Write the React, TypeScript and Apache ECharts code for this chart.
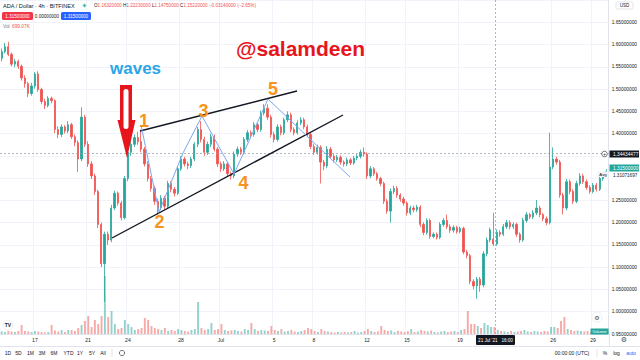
import React, { useEffect, useRef } from "react";
import * as echarts from "echarts";

// 6-hour buckets starting 14 Jun 2021 12:00 UTC
const START_UTC = Date.UTC(2021, 5, 14, 12);
const STEP_HOURS = 6;

const opens = [
  1.569, 1.584, 1.595, 1.578, 1.556, 1.562, 1.551, 1.525, 1.512, 1.490,
  1.507, 1.534, 1.499, 1.472, 1.463, 1.479, 1.474, 1.409, 1.398, 1.415,
  1.406, 1.420, 1.393, 1.380, 1.343, 1.437, 1.376, 1.332, 1.305, 1.270,
  1.196, 1.108, 1.174, 1.161, 1.233, 1.266, 1.244, 1.211, 1.299, 1.358,
  1.376, 1.391, 1.382, 1.365, 1.332, 1.299, 1.277, 1.248, 1.233, 1.255,
  1.237, 1.288, 1.275, 1.266, 1.321, 1.343, 1.332, 1.328, 1.343, 1.376,
  1.409, 1.387, 1.358, 1.376, 1.393, 1.365, 1.332, 1.321, 1.332, 1.310,
  1.305, 1.354, 1.365, 1.358, 1.387, 1.402, 1.398, 1.420, 1.409, 1.446,
  1.457, 1.437, 1.398, 1.387, 1.415, 1.402, 1.431, 1.442, 1.409, 1.402,
  1.424, 1.431, 1.415, 1.398, 1.371, 1.358, 1.369, 1.336, 1.327, 1.365,
  1.349, 1.341, 1.347, 1.336, 1.332, 1.341, 1.334, 1.345, 1.349, 1.358,
  1.354, 1.305, 1.321, 1.310, 1.299, 1.288, 1.248, 1.226, 1.270, 1.277,
  1.262, 1.253, 1.244, 1.222, 1.233, 1.229, 1.235, 1.196, 1.178, 1.205,
  1.169, 1.174, 1.167, 1.196, 1.205, 1.191, 1.183, 1.189, 1.180, 1.187,
  1.134, 1.126, 1.068, 1.058, 1.073, 1.060, 1.130, 1.161, 1.163, 1.152,
  1.178, 1.174, 1.191, 1.200, 1.191, 1.196, 1.174, 1.161, 1.205, 1.218,
  1.213, 1.222, 1.233, 1.218, 1.209, 1.200, 1.325, 1.343, 1.336, 1.262,
  1.233, 1.292, 1.270, 1.248, 1.288, 1.305, 1.292, 1.279, 1.270, 1.284,
  1.275, 1.299, 1.309,
];

const closes = [
  1.584, 1.595, 1.578, 1.556, 1.562, 1.551, 1.525, 1.512, 1.490, 1.507,
  1.534, 1.499, 1.472, 1.463, 1.479, 1.474, 1.409, 1.398, 1.415, 1.406,
  1.420, 1.393, 1.380, 1.343, 1.437, 1.376, 1.332, 1.305, 1.270, 1.196,
  1.108, 1.174, 1.161, 1.233, 1.266, 1.244, 1.211, 1.299, 1.358, 1.376,
  1.391, 1.382, 1.365, 1.332, 1.299, 1.277, 1.248, 1.233, 1.255, 1.237,
  1.288, 1.275, 1.266, 1.321, 1.343, 1.332, 1.328, 1.343, 1.376, 1.409,
  1.387, 1.358, 1.376, 1.393, 1.365, 1.332, 1.321, 1.332, 1.310, 1.305,
  1.354, 1.365, 1.358, 1.387, 1.402, 1.398, 1.420, 1.409, 1.446, 1.457,
  1.437, 1.398, 1.387, 1.415, 1.402, 1.431, 1.442, 1.409, 1.402, 1.424,
  1.431, 1.415, 1.398, 1.371, 1.358, 1.369, 1.336, 1.327, 1.365, 1.349,
  1.341, 1.347, 1.336, 1.332, 1.341, 1.334, 1.345, 1.349, 1.358, 1.354,
  1.305, 1.321, 1.310, 1.299, 1.288, 1.248, 1.226, 1.270, 1.277, 1.262,
  1.253, 1.244, 1.222, 1.233, 1.229, 1.235, 1.196, 1.178, 1.205, 1.169,
  1.174, 1.167, 1.196, 1.205, 1.191, 1.183, 1.189, 1.180, 1.187, 1.134,
  1.126, 1.068, 1.058, 1.073, 1.060, 1.130, 1.161, 1.184, 1.152, 1.178,
  1.174, 1.191, 1.200, 1.191, 1.196, 1.174, 1.161, 1.205, 1.218, 1.213,
  1.222, 1.233, 1.218, 1.209, 1.200, 1.325, 1.343, 1.336, 1.262, 1.233,
  1.292, 1.270, 1.248, 1.288, 1.305, 1.292, 1.279, 1.270, 1.284, 1.275,
  1.299, 1.309, 1.315,
];

const lows = [
  1.562, 1.580, 1.574, 1.551, 1.549, 1.545, 1.519, 1.503, 1.482, 1.485,
  1.501, 1.494, 1.466, 1.455, 1.459, 1.468, 1.401, 1.390, 1.392, 1.400,
  1.401, 1.388, 1.372, 1.314, 1.338, 1.370, 1.325, 1.298, 1.262, 1.188,
  1.100, 1.022, 1.150, 1.156, 1.228, 1.238, 1.205, 1.207, 1.293, 1.350,
  1.370, 1.375, 1.358, 1.326, 1.292, 1.270, 1.240, 1.218, 1.228, 1.230,
  1.232, 1.268, 1.259, 1.262, 1.316, 1.326, 1.320, 1.323, 1.338, 1.370,
  1.380, 1.350, 1.352, 1.370, 1.360, 1.325, 1.314, 1.316, 1.304, 1.297,
  1.300, 1.348, 1.352, 1.353, 1.381, 1.391, 1.393, 1.403, 1.404, 1.441,
  1.431, 1.391, 1.380, 1.382, 1.396, 1.397, 1.426, 1.403, 1.396, 1.398,
  1.419, 1.410, 1.392, 1.365, 1.352, 1.353, 1.288, 1.318, 1.322, 1.343,
  1.335, 1.336, 1.330, 1.326, 1.327, 1.329, 1.330, 1.340, 1.344, 1.348,
  1.298, 1.300, 1.305, 1.294, 1.282, 1.242, 1.220, 1.200, 1.264, 1.256,
  1.247, 1.238, 1.216, 1.217, 1.223, 1.224, 1.190, 1.172, 1.173, 1.164,
  1.165, 1.162, 1.163, 1.191, 1.186, 1.177, 1.178, 1.175, 1.176, 1.129,
  1.120, 1.062, 1.050, 1.029, 1.045, 1.055, 1.124, 1.156, 1.1475, 1.148,
  1.168, 1.170, 1.186, 1.185, 1.186, 1.168, 1.155, 1.157, 1.200, 1.208,
  1.208, 1.217, 1.212, 1.203, 1.194, 1.196, 1.320, 1.330, 1.256, 1.218,
  1.228, 1.264, 1.242, 1.244, 1.283, 1.287, 1.274, 1.265, 1.266, 1.270,
  1.271, 1.294, 1.305,
];

const highs = [
  1.591, 1.604, 1.606, 1.582, 1.568, 1.566, 1.555, 1.531, 1.516, 1.514,
  1.538, 1.540, 1.503, 1.478, 1.484, 1.483, 1.477, 1.416, 1.421, 1.419,
  1.428, 1.424, 1.398, 1.385, 1.459, 1.442, 1.383, 1.338, 1.310, 1.274,
  1.200, 1.180, 1.180, 1.240, 1.272, 1.270, 1.249, 1.305, 1.364, 1.382,
  1.398, 1.404, 1.409, 1.370, 1.338, 1.305, 1.283, 1.254, 1.262, 1.260,
  1.294, 1.293, 1.280, 1.327, 1.349, 1.348, 1.337, 1.348, 1.381, 1.415,
  1.428, 1.393, 1.382, 1.400, 1.398, 1.370, 1.337, 1.338, 1.336, 1.315,
  1.360, 1.371, 1.370, 1.392, 1.408, 1.407, 1.426, 1.424, 1.452, 1.466,
  1.466, 1.442, 1.404, 1.421, 1.420, 1.436, 1.450, 1.447, 1.414, 1.430,
  1.437, 1.436, 1.420, 1.403, 1.377, 1.375, 1.374, 1.341, 1.372, 1.370,
  1.354, 1.352, 1.351, 1.340, 1.346, 1.345, 1.350, 1.354, 1.364, 1.369,
  1.358, 1.327, 1.325, 1.314, 1.303, 1.292, 1.253, 1.277, 1.283, 1.282,
  1.266, 1.258, 1.248, 1.238, 1.238, 1.240, 1.239, 1.201, 1.210, 1.209,
  1.178, 1.178, 1.201, 1.210, 1.218, 1.196, 1.194, 1.193, 1.191, 1.191,
  1.139, 1.130, 1.073, 1.078, 1.078, 1.136, 1.167, 1.189, 1.2223, 1.185,
  1.183, 1.197, 1.206, 1.205, 1.201, 1.200, 1.178, 1.211, 1.224, 1.222,
  1.228, 1.251, 1.238, 1.222, 1.214, 1.402, 1.369, 1.348, 1.341, 1.267,
  1.298, 1.297, 1.275, 1.294, 1.311, 1.310, 1.297, 1.284, 1.289, 1.289,
  1.305, 1.314, 1.320,
];

// volume in thousands
const volumes = [
  250, 200, 300, 250, 200, 300, 900, 300, 250, 200,
  300, 250, 200, 150, 200, 900, 350, 250, 400, 200,
  400, 400, 300, 600, 900, 1300, 1800, 700, 1400, 1000,
  1800, 5800, 1700, 2300, 1000, 500, 600, 1400, 1000, 700,
  400, 500, 600, 1600, 1400, 800, 600, 500, 400, 600,
  300, 400, 300, 500, 400, 300, 250, 400, 500, 3200,
  600, 400, 500, 1100, 400, 500, 1000, 400, 300, 350,
  400, 300, 250, 500, 400, 1100, 500, 300, 400, 350,
  300, 800, 400, 300, 500, 250, 300, 400, 250, 200,
  300, 400, 600, 500, 300, 200, 500, 300, 250, 200,
  150, 200, 150, 200, 150, 200, 300, 150, 200, 300,
  500, 300, 200, 250, 800, 400, 300, 350, 200, 300,
  250, 200, 300, 500, 200, 250, 400, 300, 250, 350,
  200, 150, 250, 300, 200, 250, 300, 200, 400, 500,
  2300, 1000, 1000, 800, 600, 1100, 900, 700, 699.07, 400,
  300, 250, 200, 300, 200, 250, 300, 400, 250, 200,
  300, 250, 200, 300, 250, 700, 700, 600, 1300, 1700,
  500, 400, 300, 350, 300, 250, 300, 200, 250, 300,
  250, 400, 300,
];

const tickDates = [
  "2021-06-17", "2021-06-21", "2021-06-24", "2021-06-28", "2021-07-01", "2021-07-05",
  "2021-07-08", "2021-07-12", "2021-07-15", "2021-07-19", "2021-07-26", "2021-07-29",
];
const tickLabels = ["17", "21", "24", "28", "Jul", "5", "8", "12", "15", "19", "26", "29"];

// price ticks hidden behind the crosshair / last-price labels
const hiddenPriceTicks = ["1.35000000", "1.30000000"];

const rangeButtons = ["1D", "5D", "1M", "3M", "6M", "YTD", "1Y", "5Y", "All"];

const FONT = "'Liberation Sans', Arial, sans-serif";
const UP = "#26a69a";
const DOWN = "#ef5350";
const TEXT = "#131722";

const pad = (n: number) => (n < 10 ? "0" + n : "" + n);
const categories = opens.map((_, i) => {
  const d = new Date(START_UTC + i * STEP_HOURS * 3600 * 1000);
  return `${d.getUTCFullYear()}-${pad(d.getUTCMonth() + 1)}-${pad(d.getUTCDate())} ${pad(d.getUTCHours())}:00`;
});

function isTick(value: string) {
  return value.endsWith("00:00") && tickDates.indexOf(value.slice(0, 10)) >= 0;
}

function txt(x: number, y: number, text: string, o: any = {}) {
  return {
    type: "text",
    x,
    y,
    z: 100,
    silent: true,
    style: {
      text,
      fill: o.fill || TEXT,
      fontSize: o.size || 5,
      fontFamily: o.family || FONT,
      fontWeight: o.weight || "normal",
      align: o.align || "left",
      verticalAlign: "middle",
      rich: o.rich,
    },
  };
}

function rect(x: number, y: number, w: number, h: number, fill: string, o: any = {}) {
  return {
    type: "rect",
    z: 99,
    silent: true,
    shape: { x, y, width: w, height: h, r: o.r || 0 },
    style: { fill, stroke: o.stroke || null, lineWidth: o.lw || 0 },
  };
}

function line(x1: number, y1: number, x2: number, y2: number, stroke: string, lw = 1, dash?: number[]) {
  return {
    type: "line",
    z: 98,
    silent: true,
    shape: { x1, y1, x2, y2 },
    style: { stroke, lineWidth: lw, lineDash: dash || null },
  };
}

export default function App() {
  const ref = useRef<HTMLDivElement>(null);

  useEffect(() => {
    const chart = echarts.init(ref.current!, null, { renderer: "svg" });
    const candles = opens.map((o, i) => [o, closes[i], lows[i], highs[i]]);
    const vol = volumes.map((v, i) => ({
      value: v,
      itemStyle: { color: closes[i] >= opens[i] ? "rgba(38,166,154,0.5)" : "rgba(239,83,80,0.5)" },
    }));

    const orange = "#f7941d";
    const graphic: any[] = [
      // crosshair
      line(0, 153.5, 609, 153.5, "#9598a1", 0.7, [2, 2]),
      line(495.5, 0, 495.5, 334, "#9598a1", 0.7, [2, 2]),
      // separators
      line(609.3, 334, 609.3, 346, "#e0e3eb", 1),
      line(0, 346.5, 640, 346.5, "#e0e3eb", 1),
      // trend lines
      line(140, 131, 297, 91, "#131722", 1.4),
      line(112, 238, 343, 115, "#131722", 1.4),
      {
        type: "polyline",
        z: 98,
        silent: true,
        shape: { points: [[141, 125], [159, 212], [183, 153], [202, 116], [234, 174], [268, 99], [350, 177]] },
        style: { stroke: "#7ea6f2", lineWidth: 1, fill: null },
      },
      // red arrow
      {
        type: "polygon",
        z: 100,
        silent: true,
        shape: { points: [[120, 85], [132, 85], [132, 120], [135.5, 120], [127, 158], [117.5, 120], [120, 120]] },
        style: { fill: "#e8141c" },
      },
      {
        type: "rect",
        z: 101,
        silent: true,
        shape: { x: 123.5, y: 89, width: 5, height: 40, r: 2.5 },
        style: { fill: "#ffffff" },
      },
      // annotations
      txt(110, 68, "waves", { size: 17, weight: "bold", fill: "#2ba5e6" }),
      txt(236, 48.5, "@salamdeen", { size: 21, weight: "bold", fill: "#e8141c" }),
      txt(144, 121, "1", { size: 18, weight: "bold", fill: orange, align: "center" }),
      txt(159.5, 222, "2", { size: 18, weight: "bold", fill: orange, align: "center" }),
      txt(203.5, 111, "3", { size: 18, weight: "bold", fill: orange, align: "center" }),
      txt(243.5, 183, "4", { size: 18, weight: "bold", fill: orange, align: "center" }),
      txt(273, 88.5, "5", { size: 18, weight: "bold", fill: orange, align: "center" }),
      // header
      txt(3, 5.5, "ADA / Dollar · 4h · BITFINEX", { size: 5.6 }),
      { type: "circle", z: 100, silent: true, shape: { cx: 84.5, cy: 5.5, r: 2.4 }, style: { fill: "#d7f0ec" } },
      { type: "circle", z: 101, silent: true, shape: { cx: 84.5, cy: 5.5, r: 1.2 }, style: { fill: UP } },
      txt(94, 5.5, "{a|O}{b|1.16320000} {a|H}{b|1.22230000} {a|L}{b|1.14750000} {a|C}{b|1.15220000} {b|−0.03140000 (−2.65%)}", {
        size: 4.6,
        rich: {
          a: { fill: TEXT, fontSize: 4.6, fontFamily: FONT },
          b: { fill: DOWN, fontSize: 4.6, fontFamily: FONT },
        },
      }),
      rect(2, 12, 31, 8, "#f23645", { r: 1.5 }),
      txt(17.5, 16, "1.31500000", { size: 4.6, fill: "#ffffff", align: "center" }),
      txt(47, 16, "0.00000000", { size: 4.6, align: "center" }),
      rect(61, 12, 30, 8, "#2962ff", { r: 1.5 }),
      txt(76, 16, "1.31500000", { size: 4.6, fill: "#ffffff", align: "center" }),
      txt(3, 26, "Vol", { size: 4.8, fill: "#787b86" }),
      txt(12, 26, "699.07K", { size: 4.8, fill: DOWN }),
      // right scale items
      rect(616, 2, 17, 7, "#ffffff", { r: 1.5, stroke: "#d1d4dc", lw: 0.6 }),
      txt(624.5, 5.5, "USD", { size: 4.5, align: "center" }),
      rect(609.5, 150.5, 29.5, 7, TEXT),
      txt(613, 154, "1.34434477", { size: 4.8, fill: "#ffffff" }),
      { type: "circle", z: 100, silent: true, shape: { cx: 604.5, cy: 154, r: 2.8 }, style: { fill: "#ffffff", stroke: TEXT, lineWidth: 0.6 } },
      txt(604.5, 154, "+", { size: 4.5, align: "center" }),
      rect(609.5, 164.5, 29.5, 7, UP),
      txt(613, 168, "1.31500000", { size: 4.8, fill: "#ffffff" }),
      rect(597.5, 171.5, 11, 5.5, "#f0f3fa", { r: 1 }),
      txt(603, 174.3, "Avg", { size: 4.3, align: "center" }),
      rect(609.5, 172, 29.5, 6, "#ffffff"),
      txt(613, 175, "1.31071697", { size: 4.6 }),
      // bottom of pane
      { type: "circle", z: 100, silent: true, shape: { cx: 8, cy: 325, r: 5 }, style: { fill: "#ffffff", stroke: "#e0e3eb", lineWidth: 0.6 } },
      txt(8, 325.3, "TV", { size: 5, weight: "bold", align: "center" }),
      { type: "circle", z: 100, silent: true, shape: { cx: 597, cy: 317, r: 5 }, style: { fill: "#ffffff", stroke: "#e0e3eb", lineWidth: 0.6 } },
      txt(597, 317, "⚙", { size: 6, align: "center", family: "'DejaVu Sans', sans-serif", fill: "#50535e" }),
      rect(590.5, 328.5, 18, 6, UP),
      txt(599.5, 331.5, "Volume", { size: 4.3, fill: "#ffffff", align: "center" }),
      // time axis crosshair label
      rect(476, 335, 39, 10, TEXT, { r: 1 }),
      txt(495.5, 340, "21 Jul '21   16:00", { size: 4.6, fill: "#ffffff", align: "center" }),
      txt(624, 340, "⚙", { size: 7, align: "center", family: "'DejaVu Sans', sans-serif", fill: "#50535e" }),
      // bottom toolbar
      line(112, 349, 112, 357, "#e0e3eb", 1),
      { type: "circle", z: 100, silent: true, shape: { cx: 122, cy: 353, r: 2.6 }, style: { fill: "none", stroke: TEXT, lineWidth: 0.6 } },
      txt(572, 353, "00:00:00 (UTC)", { size: 5, align: "center" }),
      line(597, 349, 597, 357, "#e0e3eb", 1),
      txt(605, 353, "%", { size: 5, align: "center" }),
      txt(616.5, 353, "log", { size: 5, align: "center" }),
      txt(631, 353, "auto", { size: 5, align: "center", fill: "#2962ff" }),
    ];
    const btnX = [8, 18.5, 30.5, 42, 54, 68.5, 80, 92, 103];
    rangeButtons.forEach((b, i) => graphic.push(txt(btnX[i], 353, b, { size: 5, align: "center" })));

    chart.setOption({
      animation: false,
      backgroundColor: "#ffffff",
      textStyle: { fontFamily: FONT },
      grid: [
        { left: -3, right: 30.7, top: -7.8, bottom: 26 },
        { left: -3, right: 30.7, top: 234, bottom: 26 },
      ],
      xAxis: [
        {
          type: "category",
          gridIndex: 0,
          data: categories,
          boundaryGap: true,
          axisLine: { show: true, lineStyle: { color: "#e0e3eb" } },
          axisTick: { show: false },
          axisLabel: {
            interval: (_i: number, v: string) => isTick(v),
            formatter: (v: string) => {
              const k = tickDates.indexOf(v.slice(0, 10));
              return k >= 0 ? tickLabels[k] : "";
            },
            fontSize: 5,
            color: TEXT,
            margin: 3.5,
            fontFamily: FONT,
          },
          splitLine: {
            show: true,
            interval: (_i: number, v: string) => isTick(v),
            lineStyle: { color: "#f0f3fa", width: 1 },
          },
        },
        {
          type: "category",
          gridIndex: 1,
          data: categories,
          boundaryGap: true,
          show: false,
        },
      ],
      yAxis: [
        {
          type: "value",
          gridIndex: 0,
          position: "right",
          min: 0.95,
          max: 1.7,
          interval: 0.05,
          axisLine: { show: true, lineStyle: { color: "#e0e3eb" } },
          axisTick: { show: false },
          axisLabel: {
            showMaxLabel: false,
            fontSize: 4.8,
            color: TEXT,
            margin: 3.7,
            fontFamily: FONT,
            formatter: (v: number) => {
              const s = v.toFixed(8);
              return v > 1.675 || hiddenPriceTicks.indexOf(s) >= 0 ? "" : s;
            },
          },
          splitLine: { show: true, lineStyle: { color: "#f0f3fa", width: 1 } },
        },
        {
          type: "value",
          gridIndex: 1,
          min: 0,
          max: 10000,
          show: false,
        },
      ],
      series: [
        {
          type: "bar",
          xAxisIndex: 1,
          yAxisIndex: 1,
          data: vol,
          barWidth: 1.9,
          silent: true,
          z: 1,
        },
        {
          type: "candlestick",
          xAxisIndex: 0,
          yAxisIndex: 0,
          data: candles,
          barWidth: 1.8,
          silent: true,
          z: 2,
          itemStyle: {
            color: UP,
            color0: DOWN,
            borderColor: UP,
            borderColor0: DOWN,
            borderWidth: 0.8,
          },
        },
      ],
      graphic,
    });

    return () => chart.dispose();
  }, []);

  return <div ref={ref} style={{ position: "fixed", left: 0, top: 0, width: 640, height: 360 }} />;
}
